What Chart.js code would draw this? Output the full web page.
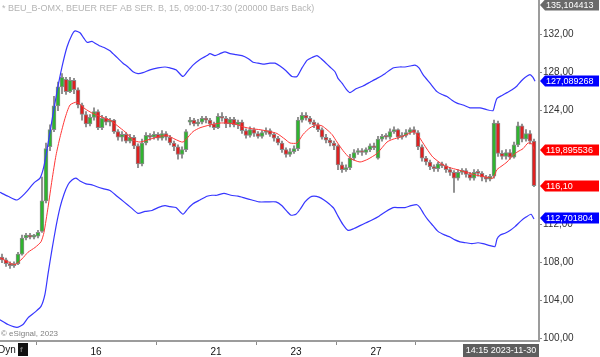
<!DOCTYPE html>
<html><head><meta charset="utf-8">
<script src="https://cdn.jsdelivr.net/npm/chart.js@4.4.1/dist/chart.umd.min.js"></script>
<style>html,body{margin:0;padding:0;background:#fff;overflow:hidden}#c{display:block}</style>
</head><body>
<canvas id="c" width="600" height="357"></canvas>
<script>
const titleText = "* BEU_B-OMX, BEUER REF AB SER. B, 15, 09:00-17:30 (200000 Bars Back)";
const copyrightText = "\u00A9 eSignal, 2023";
const dateTagText = "14:15 2023-11-30";
const modeText = "Dyn";

// OHLC, one bar per slot
const openP = [108.6,108.3,107.9,107.7,107.9,108.9,110.6,110.9,110.7,110.8,
111.3,114.5,120.2,122.0,124.5,126.5,127.3,126.0,127.2,126.2,
124.6,123.6,122.6,123.3,123.9,122.2,123.2,122.8,123.0,121.8,
121.2,121.5,120.8,121.2,120.3,118.4,120.6,121.4,121.2,121.5,
121.1,121.6,121.2,120.6,120.2,119.4,119.9,122.8,123.0,122.6,
122.8,123.2,123.0,122.6,122.2,123.4,123.2,122.6,123.1,122.5,
122.8,121.9,121.4,122.0,121.6,121.3,121.7,121.9,121.5,121.1,
120.6,119.9,119.4,119.7,120.0,123.0,123.5,123.2,122.8,122.5,
122.0,121.2,120.9,120.6,120.3,118.3,117.8,118.0,119.0,119.6,
119.8,119.6,119.9,120.3,119.0,121.0,121.3,121.2,121.8,122.0,
121.2,121.4,121.7,122.0,121.7,120.2,119.0,118.6,118.1,117.9,
118.4,118.2,117.8,117.5,116.9,117.5,117.7,117.3,116.9,117.5,
117.4,117.0,116.8,117.1,122.7,119.5,119.2,119.6,119.1,120.4,
122.4,121.0,121.6,120.8];
const highP = [108.9,108.5,108.1,108.1,109.1,110.9,111.1,111.1,111.0,111.4,
117.0,120.6,122.5,125.5,127.0,127.9,127.5,127.5,127.4,126.4,
124.8,123.9,123.6,124.3,124.1,123.5,123.4,123.2,123.1,122.0,
121.8,121.7,121.5,121.4,120.5,121.0,121.7,121.6,121.8,121.7,
121.9,121.8,121.4,120.8,120.4,120.2,122.0,123.3,123.2,123.1,
123.4,123.4,123.2,122.8,123.7,123.8,123.4,123.3,123.3,123.0,
123.0,122.1,122.3,122.2,121.8,121.9,122.2,122.1,121.7,121.3,
120.8,120.1,120.0,120.3,123.3,123.8,123.8,123.4,123.0,122.7,
122.2,121.5,121.1,120.8,120.4,118.6,118.3,119.4,119.9,120.0,
120.0,120.1,120.5,120.6,121.3,121.5,121.6,122.1,122.3,122.1,
121.7,122.0,122.2,122.3,121.9,120.4,119.2,118.8,118.3,118.6,
118.6,118.4,118.0,117.7,117.8,117.9,117.9,117.5,117.8,117.8,
117.6,117.2,117.3,123.0,122.9,119.8,119.9,119.9,120.7,122.8,
122.6,122.0,121.9,121.0];
const lowP = [108.0,107.6,107.4,107.5,107.8,108.8,110.4,110.5,110.5,110.6,
111.2,114.3,119.8,121.8,124.0,125.8,125.7,125.9,125.8,124.3,
123.0,122.3,122.4,123.0,122.0,122.0,122.5,122.4,121.6,120.9,
120.8,120.6,120.6,120.0,118.0,118.2,120.4,120.9,121.0,120.9,
120.9,120.9,120.4,119.8,118.9,119.0,119.7,122.5,122.4,122.4,
122.6,122.7,122.3,122.0,122.1,122.9,122.2,122.3,122.3,122.1,
121.6,121.1,121.2,121.3,121.1,121.1,121.5,121.3,120.8,120.4,
119.6,119.1,119.2,119.5,119.8,122.8,123.0,122.6,122.2,121.8,
121.0,120.6,120.3,119.9,117.8,117.5,117.6,117.8,118.8,119.4,
119.3,119.4,119.7,119.9,118.9,120.8,121.0,121.0,121.6,121.0,
121.0,121.2,121.5,121.5,119.9,118.7,118.3,117.8,117.6,117.6,
118.0,117.5,117.2,115.4,116.7,117.3,117.0,116.7,116.7,117.1,
116.6,116.5,116.6,116.9,119.2,118.9,118.9,118.9,119.0,120.2,
120.7,120.8,120.5,116.0];
const closeP = [108.3,107.9,107.7,107.9,108.9,110.6,110.9,110.7,110.8,111.2,
114.5,120.0,122.0,124.5,126.5,127.5,126.0,127.2,126.2,124.6,
123.6,122.6,123.3,123.9,122.2,123.2,122.8,123.0,121.8,121.2,
121.5,120.8,121.2,120.3,118.4,120.6,121.4,121.2,121.5,121.1,
121.6,121.2,120.6,120.2,119.4,119.9,121.8,123.0,122.6,122.8,
123.2,123.0,122.6,122.2,123.4,123.2,122.6,123.1,122.5,122.8,
121.9,121.4,122.0,121.6,121.3,121.7,121.9,121.5,121.1,120.6,
119.9,119.4,119.7,120.0,123.0,123.5,123.2,122.8,122.5,122.0,
121.2,120.9,120.6,120.3,118.3,117.8,118.0,119.0,119.6,119.8,
119.6,119.9,120.3,120.1,121.0,121.3,121.2,121.8,122.0,121.2,
121.4,121.7,122.0,121.7,120.2,119.0,118.6,118.1,117.9,118.4,
118.2,117.8,117.5,116.9,117.5,117.7,117.3,116.9,117.5,117.4,
117.0,116.8,117.1,122.7,119.5,119.2,119.6,119.1,120.4,122.4,
121.0,121.6,120.8,116.1];

// Moving average and envelope bands: [slot, value]
const maLine = [[-0.5,108.5],[1.5,108.1],[3.25,107.8],[5,108.4],[6.5,109.1],[8.25,109.6],[9.75,110.2],[10.5,111.2],[11.5,113.8],[12.5,116.7],[13.5,119.3],[14.5,121.2],[15.75,123.2],[17,124.6],[18.75,124.9],[20.75,124.2],[22.75,123.7],[24.5,123.4],[27,123.0],[29.5,122.2],[31.25,121.6],[32.75,120.9],[34.5,120.7],[37,121.0],[39.5,121.3],[41.25,121.4],[43.25,121.0],[45.25,120.7],[47.75,121.8],[49.5,122.2],[52,122.5],[54.5,122.7],[56.25,122.7],[58.25,122.6],[60.25,122.3],[62.5,122.1],[64.5,122.0],[67,121.8],[68.75,121.6],[70.75,121.0],[72,120.6],[73.75,120.6],[75.25,121.5],[77,122.2],[78.75,122.5],[80,122.4],[81.25,122.0],[82.5,121.5],[83.75,120.7],[85.25,119.8],[87,119.0],[89.5,118.6],[91.5,118.9],[93.75,119.5],[96.25,120.7],[97.75,121.0],[99.5,121.2],[101.25,121.5],[102.75,121.8],[104,121.4],[105.25,120.6],[106.5,119.8],[107.75,119.1],[110.25,118.3],[112,118.0],[113.75,117.8],[116.25,117.5],[118.75,117.2],[121.25,117.0],[122.75,116.9],[123.75,117.8],[125,118.2],[126.25,118.6],[127.75,119.3],[129,119.7],[130.25,120.0],[131.5,120.6],[132.5,120.5],[133,119.9]];
const upperBand = [[-0.5,115.4],[1.5,115.0],[3.75,114.6],[5.75,115.3],[8,116.4],[9.5,116.9],[10.5,118.2],[11.5,120.5],[12.5,123.0],[13.75,126.0],[15,128.6],[16.25,130.7],[17.5,132.0],[18.25,132.4],[19.5,132.2],[20.5,131.6],[21.25,131.2],[22.5,131.3],[23.25,131.1],[24.5,130.8],[25.75,130.6],[27,130.3],[27.75,130.0],[29,129.5],[30.25,129.0],[31.5,128.6],[32.75,128.1],[34,127.9],[35.25,128.0],[37,128.3],[39,128.5],[40.75,128.6],[42,128.5],[43.5,128.3],[45.25,127.6],[46.5,128.2],[47.75,128.8],[49.5,129.4],[51.25,129.8],[52,130.0],[53.25,129.8],[54.5,130.0],[55.75,130.2],[57,130.0],[58.5,129.9],[60,129.8],[61.5,129.5],[62.75,129.1],[64,129.0],[65.25,128.9],[67,129.0],[68.25,129.0],[69.5,128.7],[71,128.2],[72.5,127.6],[73.75,127.6],[75,128.5],[76.25,129.3],[77.5,129.6],[78.75,129.8],[79.75,129.5],[80.75,129.1],[82,128.6],[83.25,128.1],[84,127.4],[85,126.9],[86,126.3],[87,125.9],[88.5,126.3],[90.25,126.6],[92,127.0],[93.75,127.4],[95.75,127.9],[97.75,128.5],[99.5,128.6],[100.75,128.6],[102,128.7],[103.25,128.8],[104.25,128.5],[105.25,127.8],[107,126.9],[108.75,126.0],[110,125.7],[111.25,125.5],[112.5,125.1],[113.75,124.8],[115.25,124.6],[117,124.3],[118.25,124.3],[119.5,124.3],[121.25,124.1],[122.75,124.0],[123.25,124.7],[123.75,125.3],[125,125.6],[126.25,125.9],[127.5,126.2],[128.75,126.6],[129.75,127.1],[130.75,127.5],[132,127.8],[132.75,127.5],[133.25,127.1]];
const lowerBand = [[-0.5,102.0],[1.5,101.5],[3.75,101.2],[5.25,101.5],[6.5,102.2],[8.25,102.8],[9.75,103.4],[10.75,104.7],[11.5,106.8],[12.5,109.4],[13.5,111.8],[14.5,113.8],[15.5,115.2],[16.5,116.2],[17.5,116.7],[18.5,116.9],[19.5,116.6],[21,116.3],[22.5,116.2],[23.75,116.0],[25.25,115.8],[27,115.6],[28.75,115.0],[30.5,114.4],[32.25,113.8],[34,113.2],[35.75,113.4],[37.5,113.5],[39,113.8],[40.75,114.0],[42,113.9],[43.5,113.8],[45.25,113.1],[46.5,113.7],[47.75,114.2],[49.5,114.6],[51.25,115.0],[52.5,115.1],[53.75,115.1],[55.5,115.3],[57.25,115.1],[59,115.0],[60.75,114.8],[62.5,114.6],[64.25,114.4],[66.25,114.4],[68.5,114.4],[70,114.0],[71.25,113.4],[72.25,113.0],[73.5,113.1],[74.5,113.6],[75.75,114.4],[77,114.9],[78,115.0],[79.25,114.9],[80.5,114.6],[81.75,114.2],[83,113.7],[84,112.9],[85.25,112.0],[86.5,111.4],[88,111.6],[89.5,111.9],[91,112.2],[92.5,112.5],[94.25,112.9],[96,113.4],[97.75,113.8],[99.25,113.8],[100.75,113.8],[102.25,114.0],[103.75,114.1],[104.5,113.8],[105.5,113.1],[106.5,112.5],[107.75,111.9],[109,111.3],[110.75,110.9],[112,110.7],[113.25,110.4],[114.5,110.2],[116,110.1],[117.5,110.0],[119,110.1],[120.25,110.0],[122,109.8],[123.25,109.7],[123.75,110.5],[124.5,110.9],[125.75,111.1],[127,111.4],[128.25,111.8],[129.75,112.4],[131,112.8],[132.25,113.1],[133,112.6]];

// Axis ticks (labels at 116 and 120 are hidden behind value tags in the original)
const yTickValues = [100,104,108,112,124,128,132];
const dayTickSlots = [23.5,53.5,73.5,93.5];
const dayTickLabels = ["16","21","23","27"];

// Value tags on the price axis
const tagValues = [135.104413,127.089268,119.895536,116.10,112.701804];
const tagDigits = [6,6,6,2,6];

const FONT = "'Liberation Sans', Arial, sans-serif";
const tagColors = ["#6a6a6a","#0000ff","#ff0000","#ff0000","#0000ff"];

const overlay = {
  id: 'overlay',
  afterDraw(chart) {
    const c = chart.ctx, ys = chart.scales.y, ca = chart.chartArea;
    c.save();
    c.textBaseline = "middle"; c.textAlign = "left";
    // title
    c.font = "9px " + FONT; c.fillStyle = "#b4b4b4";
    c.fillText(titleText, 2, 9);
    // copyright
    c.font = "8px " + FONT; c.fillStyle = "#808080";
    c.fillText(copyrightText, 1, 334);
    // mode label + icon
    c.font = "10px " + FONT; c.fillStyle = "#111";
    c.fillText(modeText, -2, 350);
    c.fillStyle = "#111"; c.fillRect(18, 343, 10, 13);
    c.fillStyle = "#777"; c.font = "bold 8px " + FONT; c.fillText("f", 20, 350);
    // date tag
    c.font = "9px " + FONT;
    c.fillStyle = "#5e5e5e"; c.fillRect(463, 344, ca.right - 463, 13);
    c.fillStyle = "#fff"; c.textAlign = "center";
    c.fillText(dateTagText, (463 + ca.right) / 2, 351);
    // value tags
    c.textAlign = "left"; c.font = "9px " + FONT;
    tagValues.forEach((v, i) => {
      const y = Math.round(ys.getPixelForValue(v));
      const x0 = ca.right + 1;
      c.fillStyle = tagColors[i];
      c.beginPath();
      c.moveTo(x0, y);
      c.lineTo(x0 + 5, y - 5.5);
      c.lineTo(599, y - 5.5);
      c.lineTo(599, y + 5.5);
      c.lineTo(x0 + 5, y + 5.5);
      c.closePath(); c.fill();
      c.fillStyle = "#fff";
      c.fillText(v.toFixed(tagDigits[i]).replace('.', ','), x0 + 6, y + 0.5);
    });
    c.restore();
  }
};

const wickData = lowP.map((l, i) => ({ x: i, y: [l, highP[i]] }));
const bodyData = openP.map((o, i) => ({ x: i, y: [Math.min(o, closeP[i]), Math.max(o, closeP[i])] }));
const bodyColors = openP.map((o, i) => closeP[i] >= o ? "#2fb52f" : "#e02020");
const toXY = arr => arr.map(p => ({ x: p[0], y: p[1] }));

new Chart(document.getElementById('c'), {
  type: 'bar',
  data: {
    datasets: [
      { type: 'bar', label: 'wick', data: wickData, backgroundColor: '#7c7c7c', barThickness: 1, grouped: false, order: 5 },
      { type: 'bar', label: 'body', data: bodyData, backgroundColor: bodyColors, borderColor: '#8a8a8a', borderWidth: 1, borderSkipped: false, barThickness: 4, minBarLength: 2, grouped: false, order: 4 },
      { type: 'line', label: 'upper', data: toXY(upperBand), borderColor: 'rgb(55,55,255)', borderWidth: 1.2, pointRadius: 0, tension: 0.2, order: 2 },
      { type: 'line', label: 'lower', data: toXY(lowerBand), borderColor: 'rgb(55,55,255)', borderWidth: 1.2, pointRadius: 0, tension: 0.2, order: 2 },
      { type: 'line', label: 'ma', data: toXY(maLine), borderColor: 'rgb(255,55,55)', borderWidth: 1, pointRadius: 0, tension: 0.2, order: 1 }
    ]
  },
  options: {
    responsive: false, animation: false, devicePixelRatio: 1,
    layout: { padding: 0 },
    plugins: { legend: { display: false }, tooltip: { enabled: false } },
    scales: {
      x: {
        type: 'linear', position: 'bottom', min: -0.5, max: 134.25, offset: false,
        afterFit(s) { s.height = 16; s.paddingLeft = 0; s.paddingRight = 0; },
        afterBuildTicks(s) { s.ticks = dayTickSlots.map(v => ({ value: v })); },
        ticks: { autoSkip: false, maxRotation: 0, padding: 1, color: '#111', font: { family: FONT, size: 10 },
          callback: v => { const k = dayTickSlots.indexOf(v); return k >= 0 ? dayTickLabels[k] : ''; } },
        grid: { drawOnChartArea: false, drawTicks: true, tickLength: 4, tickColor: '#8a8a8a', tickWidth: 1 },
        border: { display: true, color: '#9c9c9c', width: 2 }
      },
      y: {
        position: 'right', min: 99.76, max: 135.65,
        afterFit(s) { s.width = 61; s.paddingTop = 0; s.paddingBottom = 0; },
        afterBuildTicks(s) { s.ticks = yTickValues.map(v => ({ value: v })); },
        ticks: { padding: 1, color: '#333', font: { family: FONT, size: 10 },
          callback: v => v.toFixed(2).replace('.', ',') },
        grid: { drawOnChartArea: false, drawTicks: true, tickLength: 3, tickColor: '#8a8a8a', tickWidth: 1 },
        border: { display: true, color: '#9c9c9c', width: 2 }
      }
    }
  },
  plugins: [overlay]
});
</script>
</body></html>
